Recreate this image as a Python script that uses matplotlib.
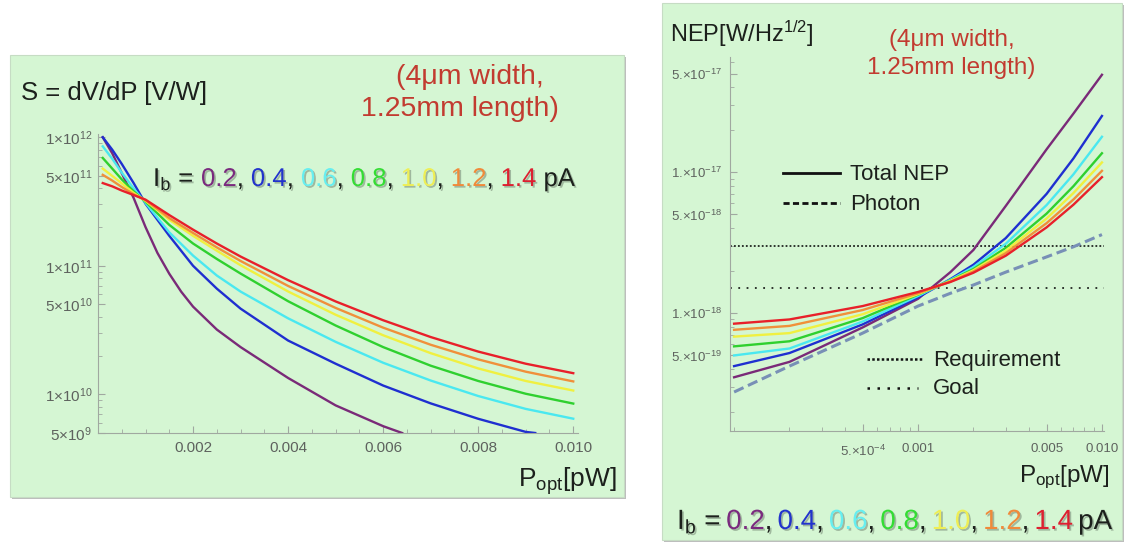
import numpy as np
import matplotlib
matplotlib.use('Agg')
import matplotlib.pyplot as plt
from matplotlib.patches import Rectangle
from matplotlib.lines import Line2D
from matplotlib import ticker
import matplotlib.patheffects as pe

plt.rcParams['font.family'] = ['Liberation Sans', 'DejaVu Sans']
plt.rcParams['mathtext.fontset'] = 'custom'
plt.rcParams['mathtext.rm'] = 'Liberation Sans'
plt.rcParams['mathtext.it'] = 'Liberation Sans:italic'
plt.rcParams['mathtext.bf'] = 'Liberation Sans:bold'

# ---- data: left panel, responsivity S [V/W] vs P_opt [pW] (linear x) ----
ib_labels = ['0.2', '0.4', '0.6', '0.8', '1.0', '1.2', '1.4']
line_colors = ['#7a2a78', '#1f2fd0', '#4ae8f0', '#2fd02f', '#f0f040', '#f0903a', '#e8202a']
text_colors = ['#7a2a7e', '#2233cc', '#66eef0', '#33dd33', '#eeee55', '#f08a3a', '#dd2030']

p_lin = [0.0001, 0.0003, 0.0005, 0.00075, 0.001, 0.0015, 0.002, 0.0025, 0.003,
         0.004, 0.005, 0.006, 0.007, 0.008, 0.009, 0.010]
p_purple = [0.0001, 0.0003, 0.0005, 0.00075, 0.001, 0.00125, 0.0015, 0.00175, 0.002,
            0.0025, 0.003, 0.004, 0.005, 0.006, 0.0064]
p_blue = [0.0001, 0.0003, 0.0005, 0.00075, 0.001, 0.0015, 0.002, 0.0025, 0.003,
          0.004, 0.005, 0.006, 0.007, 0.008, 0.009, 0.0092]

s_02 = [1.0e12, 7.5e11, 5.26e11, 3.37e11, 2.0e11, 1.26e11, 8.67e10, 6.29e10, 4.81e10,
        3.19e10, 2.33e10, 1.34e10, 8.2e9, 5.65e9, 5.0e9]
s_04 = [1.0e12, 8.0e11, 6.2e11, 4.4e11, 3.04e11, 1.71e11, 1.0e11, 6.64e10, 4.64e10,
        2.62e10, 1.73e10, 1.17e10, 8.5e9, 6.45e9, 5.1e9, 5.0e9]
s_06 = [8.5e11, 6.8e11, 5.3e11, 4.0e11, 3.08e11, 1.82e11, 1.2e11, 8.4e10, 6.3e10,
        3.9e10, 2.56e10, 1.76e10, 1.28e10, 9.7e9, 7.7e9, 6.46e9]
s_08 = [6.9e11, 5.7e11, 4.7e11, 3.8e11, 3.15e11, 2.08e11, 1.49e11, 1.13e11, 8.7e10,
        5.3e10, 3.43e10, 2.33e10, 1.67e10, 1.27e10, 1.01e10, 8.47e9]
s_10 = [5.7e11, 5.0e11, 4.38e11, 3.69e11, 3.2e11, 2.28e11, 1.71e11, 1.31e11, 1.01e11,
        6.31e10, 4.16e10, 2.88e10, 2.09e10, 1.59e10, 1.27e10, 1.07e10]
s_12 = [5.1e11, 4.6e11, 4.1e11, 3.6e11, 3.24e11, 2.35e11, 1.80e11, 1.39e11, 1.09e11,
        6.97e10, 4.70e10, 3.30e10, 2.43e10, 1.87e10, 1.50e10, 1.26e10]
s_14 = [4.4e11, 4.15e11, 3.85e11, 3.55e11, 3.27e11, 2.48e11, 1.91e11, 1.49e11, 1.18e11,
        7.73e10, 5.28e10, 3.77e10, 2.79e10, 2.15e10, 1.73e10, 1.46e10]

# ---- data: right panel, NEP [W/Hz^1/2] vs P_opt [pW] (log x) ----
p_log = [1e-4, 2e-4, 5e-4, 1e-3, 1.5e-3, 2e-3, 3e-3, 5e-3, 7e-3, 1e-2]
nep_02 = [3.5e-19, 4.5e-19, 7.9e-19, 1.26e-18, 1.95e-18, 2.8e-18, 5.75e-18, 1.45e-17, 2.6e-17, 4.9e-17]
nep_04 = [4.2e-19, 5.2e-19, 8.3e-19, 1.29e-18, 1.74e-18, 2.2e-18, 3.4e-18, 7.0e-18, 1.25e-17, 2.5e-17]
nep_06 = [5.0e-19, 5.6e-19, 8.7e-19, 1.32e-18, 1.72e-18, 2.12e-18, 3.1e-18, 5.83e-18, 9.64e-18, 1.78e-17]
nep_08 = [5.8e-19, 6.3e-19, 9.2e-19, 1.35e-18, 1.70e-18, 2.05e-18, 2.9e-18, 5.07e-18, 7.94e-18, 1.36e-17]
nep_10 = [6.8e-19, 7.2e-19, 9.8e-19, 1.36e-18, 1.69e-18, 2.01e-18, 2.77e-18, 4.68e-18, 7.1e-18, 1.17e-17]
nep_12 = [7.6e-19, 8.1e-19, 1.05e-18, 1.38e-18, 1.67e-18, 1.97e-18, 2.66e-18, 4.34e-18, 6.39e-18, 1.02e-17]
nep_14 = [8.4e-19, 9.0e-19, 1.12e-18, 1.41e-18, 1.66e-18, 1.93e-18, 2.55e-18, 4.05e-18, 5.87e-18, 9.2e-18]
nep_photon = [2.75e-19, 4.2e-19, 7.2e-19, 1.12e-18, 1.38e-18, 1.58e-18, 1.95e-18, 2.5e-18, 2.95e-18, 3.6e-18]
nep_requirement = 3.0e-18
nep_goal = 1.5e-18

W, H = 1124, 542
fig = plt.figure(figsize=(W / 100, H / 100), dpi=100)


def fx(x):
    return x / W


def fy(y):
    return 1 - y / H


# green panels with a light shadow (kept under the axes)
for x0, y0, x1, y1 in [(10, 55, 624, 497), (662, 3, 1122, 540)]:
    fig.add_artist(Rectangle((fx(x0 + 2), fy(y1 + 2)), (x1 - x0) / W, (y1 - y0) / H,
                             transform=fig.transFigure, facecolor='#bdbdbd',
                             edgecolor='none', zorder=-3))
    fig.add_artist(Rectangle((fx(x0), fy(y1)), (x1 - x0) / W, (y1 - y0) / H,
                             transform=fig.transFigure, facecolor='#d5f6d3',
                             edgecolor='#c6dcc4', lw=0.8, zorder=-2))


def mm_style(ax):
    ax.set_facecolor('none')
    for s in ['top', 'right']:
        ax.spines[s].set_visible(False)
    for s in ['left', 'bottom']:
        ax.spines[s].set_color('#a0a8a0')
        ax.spines[s].set_linewidth(0.8)
    ax.tick_params(which='both', direction='in', color='#a0a8a0', labelcolor='#5e625e')
    ax.tick_params(which='major', length=5, width=0.8)
    ax.tick_params(which='minor', length=3, width=0.6)


# ---- left axes ----
axL = fig.add_axes([fx(98), fy(433), (578 - 98) / W, (433 - 134) / H])
mm_style(axL)
axL.set_yscale('log')
axL.plot(p_purple, s_02, color=line_colors[0], lw=1.7)
axL.plot(p_blue, s_04, color=line_colors[1], lw=1.7)
for s, c in zip([s_06, s_08, s_10, s_12, s_14], line_colors[2:]):
    axL.plot(p_lin, s, color=c, lw=1.7)
axL.set_xlim(0, 0.0101)
axL.set_ylim(5e9, 1.06e12)
axL.xaxis.set_major_locator(ticker.FixedLocator([0.002, 0.004, 0.006, 0.008, 0.010]))
axL.xaxis.set_major_formatter(ticker.FixedFormatter(['0.002', '0.004', '0.006', '0.008', '0.010']))
axL.xaxis.set_minor_locator(ticker.MultipleLocator(0.0005))
axL.yaxis.set_major_locator(ticker.FixedLocator([5e9, 1e10, 5e10, 1e11, 5e11, 1e12]))
axL.yaxis.set_major_formatter(ticker.FixedFormatter(
    ['5\u00d710$^{9}$', '1\u00d710$^{10}$', '5\u00d710$^{10}$',
     '1\u00d710$^{11}$', '5\u00d710$^{11}$', '1\u00d710$^{12}$']))
axL.yaxis.set_minor_locator(ticker.LogLocator(subs=np.arange(2, 10)))
axL.yaxis.set_minor_formatter(ticker.NullFormatter())
axL.tick_params(axis='both', which='major', labelsize=11)
axL.tick_params(axis='x', pad=6)
axL.tick_params(axis='y', pad=4)

# ---- right axes ----
axR = fig.add_axes([fx(730), fy(431), (1104 - 730) / W, (431 - 57) / H])
mm_style(axR)
axR.set_xscale('log')
axR.set_yscale('log')
axR.axhline(nep_requirement, color='#202420', lw=1.3, ls=(0, (1, 1.2)))
axR.axhline(nep_goal, color='#202420', lw=1.3, ls=(0, (1, 3.6)))
axR.plot(p_log, nep_photon, color='#7890b6', lw=2.2, ls=(0, (3.4, 1.6)))
for n, c in zip([nep_02, nep_04, nep_06, nep_08, nep_10, nep_12, nep_14], line_colors):
    axR.plot(p_log, n, color=c, lw=1.7)
axR.set_xlim(9.5e-5, 1.026e-2)
axR.set_ylim(1.455e-19, 6.55e-17)
axR.xaxis.set_major_locator(ticker.FixedLocator([5e-4, 1e-3, 5e-3, 1e-2]))
axR.xaxis.set_major_formatter(ticker.FixedFormatter(
    ['5.\u00d710$^{-4}$', '0.001', '0.005', '0.010']))
axR.xaxis.set_minor_locator(ticker.LogLocator(subs=np.arange(1, 10)))
axR.xaxis.set_minor_formatter(ticker.NullFormatter())
axR.yaxis.set_major_locator(ticker.FixedLocator([5e-19, 1e-18, 5e-18, 1e-17, 5e-17]))
axR.yaxis.set_major_formatter(ticker.FixedFormatter(
    ['5.\u00d710$^{-19}$', '1.\u00d710$^{-18}$', '5.\u00d710$^{-18}$',
     '1.\u00d710$^{-17}$', '5.\u00d710$^{-17}$']))
axR.yaxis.set_minor_locator(ticker.LogLocator(subs=np.arange(1, 10)))
axR.yaxis.set_minor_formatter(ticker.NullFormatter())
axR.tick_params(axis='both', which='major', labelsize=9.5)
axR.tick_params(axis='x', pad=9)
axR.tick_params(axis='y', pad=6)

# ---- titles and notes ----
ink = '#1c201c'
note_red = '#c23b30'
fig.text(fx(21), fy(100), 'S = dV/dP [V/W]', fontsize=18.5, color=ink, va='baseline')
fig.text(fx(470), fy(77), '(4\u03bcm width,', fontsize=20.5, color=note_red, ha='center', va='center')
fig.text(fx(460), fy(109), '1.25mm length)', fontsize=20.5, color=note_red, ha='center', va='center')
fig.text(fx(617), fy(487), r'P$_\mathrm{opt}$[pW]', fontsize=19, color=ink, ha='right', va='baseline')

fig.text(fx(670), fy(42), r'NEP[W/Hz$^{1/2}$]', fontsize=17, color=ink, va='baseline')
fig.text(fx(952), fy(40), '(4\u03bcm width,', fontsize=17.5, color=note_red, ha='center', va='center')
fig.text(fx(951), fy(68), '1.25mm length)', fontsize=17.5, color=note_red, ha='center', va='center')
fig.text(fx(1110), fy(482), r'P$_\mathrm{opt}$[pW]', fontsize=17.5, color=ink, ha='right', va='baseline')

# legend in right panel
fig.add_artist(Line2D([fx(783), fx(840)], [fy(173), fy(173)], transform=fig.transFigure,
                      color='#111', lw=2))
fig.add_artist(Line2D([fx(783), fx(840)], [fy(203), fy(203)], transform=fig.transFigure,
                      color='#111', lw=2, ls=(0, (2.2, 1.2))))
fig.add_artist(Line2D([fx(867), fx(922)], [fy(359), fy(359)], transform=fig.transFigure,
                      color='#111', lw=1.8, ls=(0, (1, 0.9))))
fig.add_artist(Line2D([fx(867), fx(918)], [fy(388), fy(388)], transform=fig.transFigure,
                      color='#111', lw=1.8, ls=(0, (1, 3.0))))
fig.text(fx(850), fy(180), 'Total NEP', fontsize=16, color=ink, va='baseline')
fig.text(fx(850), fy(210), 'Photon', fontsize=16, color=ink, va='baseline')
fig.text(fx(933), fy(366), 'Requirement', fontsize=16, color=ink, va='baseline')
fig.text(fx(933), fy(394), 'Goal', fontsize=16, color=ink, va='baseline')

# ---- coloured bias-current lines ----
shadow = [pe.withSimplePatchShadow(offset=(1.2, -1.2), shadow_rgbFace='k', alpha=0.25)]


def ib_line(x0, x1, y, size):
    r = fig.canvas.get_renderer()
    pieces = [(r'I$_\mathrm{b}$ =', ink, 1)]
    for i, (lab, c) in enumerate(zip(ib_labels, text_colors)):
        pieces.append((lab, c, 0))
        pieces.append((',' if i < len(ib_labels) - 1 else '', ink, 1))
    pieces.append(('pA', ink, 0))
    texts = []
    widths = []
    for s, c, _ in pieces:
        t = fig.text(0, fy(y), s if s else ' ', color=c, fontsize=size, va='baseline',
                     path_effects=shadow)
        texts.append(t)
        widths.append(t.get_window_extent(renderer=r).width if s else 0)
    n_gaps = sum(g for _, _, g in pieces)
    gap = (x1 - x0 - sum(widths)) / n_gaps
    cx = x0
    for t, w, (s, _, g) in zip(texts, widths, pieces):
        t.set_x(fx(cx))
        if not s:
            t.set_text('')
        cx += w + g * gap


ib_line(153, 575, 186, 18.5)
ib_line(677, 1112, 529, 20)

fig.savefig('out.png', dpi=100)
